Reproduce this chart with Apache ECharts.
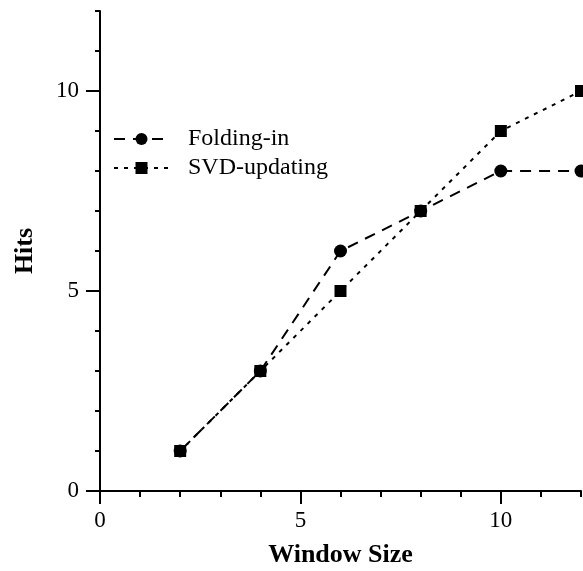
<!DOCTYPE html>
<html>
<head>
<meta charset="utf-8">
<script src="https://cdn.jsdelivr.net/npm/echarts@6/dist/echarts.min.js"></script>
<style>html,body{margin:0;padding:0;background:#fff}#c{width:583px;height:571px}</style>
</head>
<body>
<div id="c"></div>
<script>
var windowSize = [2, 4, 6, 8, 10, 12];
var foldingIn = [1, 3, 6, 7, 8, 8];
var svdUpdating = [1, 3, 5, 7, 9, 10];
var majorTicks = [0, 5, 10];
var minorTicks = [0, 1, 2, 3, 4, 5, 6, 7, 8, 9, 10, 11, 12];

var font = 'Liberation Serif';
function pairs(xs, ys) { return xs.map(function (x, i) { return [x, ys[i]]; }); }

var chart = echarts.init(document.getElementById('c'), null, {renderer: 'canvas'});
var axisBase = {
  type: 'value', min: 0, max: 12, splitLine: {show: false}
};
chart.setOption({
  animation: false,
  backgroundColor: '#fff',
  grid: {left: 100, right: 2, top: 11, bottom: 80, containLabel: false, outerBoundsMode: 'none'},
  legend: {
    orient: 'vertical', left: 113, top: 127, padding: 0, itemWidth: 55, itemHeight: 15, itemGap: 5,
    textStyle: {fontFamily: font, fontSize: 24, color: '#000', padding: [0, 0, 0, 14], lineHeight: 24},
    data: ['Folding-in', 'SVD-updating']
  },
  xAxis: [
    Object.assign({}, axisBase, {
      position: 'bottom',
      name: 'Window Size', nameLocation: 'middle', nameGap: 51,
      nameTextStyle: {fontFamily: font, fontSize: 26, fontWeight: 'bold', color: '#000'},
      axisLine: {show: true, onZero: false, lineStyle: {color: '#000', width: 2}},
      axisTick: {show: true, length: 13, customValues: majorTicks, lineStyle: {color: '#000', width: 2}},
      axisLabel: {show: true, customValues: majorTicks, margin: 18, fontFamily: font, fontSize: 23, color: '#000'}
    }),
    Object.assign({}, axisBase, {
      position: 'bottom',
      axisLine: {show: false},
      axisTick: {show: true, length: 6, customValues: minorTicks, lineStyle: {color: '#000', width: 2}},
      axisLabel: {show: false}
    })
  ],
  yAxis: [
    Object.assign({}, axisBase, {
      position: 'left',
      name: 'Hits', nameLocation: 'middle', nameGap: 62,
      nameTextStyle: {fontFamily: font, fontSize: 26, fontWeight: 'bold', color: '#000'},
      axisLine: {show: true, onZero: false, lineStyle: {color: '#000', width: 2}},
      axisTick: {show: true, length: 14, customValues: majorTicks, lineStyle: {color: '#000', width: 2}},
      axisLabel: {show: true, customValues: majorTicks, margin: 21, fontFamily: font, fontSize: 23, color: '#000'}
    }),
    Object.assign({}, axisBase, {
      position: 'left',
      axisLine: {show: false},
      axisTick: {show: true, length: 5, customValues: minorTicks, lineStyle: {color: '#000', width: 2}},
      axisLabel: {show: false}
    })
  ],
  series: [
    {
      name: 'Folding-in', type: 'line', xAxisIndex: 0, yAxisIndex: 0,
      data: pairs(windowSize, foldingIn),
      symbol: 'circle', symbolSize: 13, clip: false,
      itemStyle: {color: '#000'},
      lineStyle: {color: '#000', width: 2, type: [11, 8]}
    },
    {
      name: 'SVD-updating', type: 'line', xAxisIndex: 0, yAxisIndex: 0,
      data: pairs(windowSize, svdUpdating),
      symbol: 'rect', symbolSize: 12, clip: false,
      itemStyle: {color: '#000'},
      lineStyle: {color: '#000', width: 2, type: [4, 6]}
    }
  ]
});
</script>
</body>
</html>
